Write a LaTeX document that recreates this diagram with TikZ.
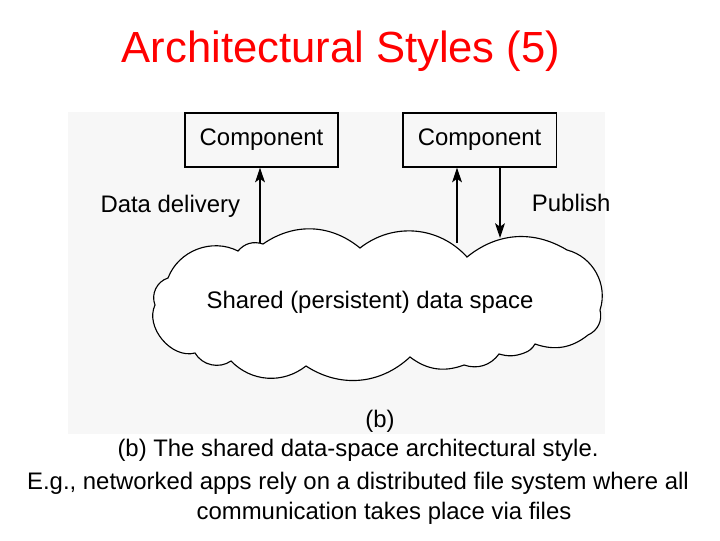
\documentclass[tikz,border=0pt]{standalone}
\usepackage{fontspec}
\setmainfont{Liberation Sans}
\usepackage{tikz}
\usetikzlibrary{shapes, arrows.meta, positioning}

\begin{document}
\begin{tikzpicture}[
    x=0.025cm, y=-0.025cm,
    box/.style={rectangle, draw, line width=0.8pt, minimum width=3.825cm, minimum height=1.35cm, font=\fontsize{17}{20}\selectfont},
    lbl/.style={font=\fontsize{17}{20}\selectfont},
    arrow/.style={-{Stealth[length=10.5pt, width=7pt, inset=2.5pt]}, line width=0.8pt},
    caption/.style={font=\fontsize{17}{20}\selectfont}
]
    \useasboundingbox (0,0) rectangle (720,540);
    % figure panel
    \fill [black!3] (68,112) rectangle (605,434);

    \node [text=red, anchor=base, font=\fontsize{31}{36}\selectfont] (title) at (341,62) {Architectural Styles (5)};

    \node [box] (comp1) at (261.5,140) {Component};
    \node [box, right of=comp1, xshift=4.45cm] (comp2) {Component};

    % the shared data space
    \draw [line width=0.8pt, fill=white] (195,353) to[bend left=65] (155,305) to[bend left=47] (168,278)
        to[bend left=48] (238,251) to[bend left=34] (263,244) to[bend left=37] (360,248)
        to[bend left=43] (467,257) to[bend left=35] (567,250) to[bend left=47] (600,310)
        to[bend left=40] (588,335) to[bend left=29] (535,344) to[bend left=20] (524,353)
        to[bend left=18] (499,354) to[bend left=36] (464,365) to[bend left=29] (410,357)
        to[bend left=38] (306,366) to[bend left=42] (231,361) to[bend left=47] (195,353) -- cycle;
    \node [lbl] (space) at (370,302) {Shared (persistent) data space};

    \coordinate (dd-out) at (260,243);
    \coordinate (sub-out) at (457,243);
    \coordinate (pub-in) at (500,238);

    \draw [arrow] (dd-out) -- (dd-out |- comp1.south);
    \draw [arrow] (sub-out) -- (sub-out |- comp2.south);
    \draw [arrow] (pub-in |- comp2.south) -- (pub-in);

    \node [lbl, anchor=east] (delivery) at (245,206) {Data delivery};
    \node [lbl, anchor=west] (publish) at (527,203) {Publish};

    \node [lbl] (fig) at (380,421) {(b)};
    \node [caption] (cap1) at (358,450) {(b) The shared data-space architectural style.};
    \node [caption] (cap2) at (358,483) {E.g., networked apps rely on a distributed file system where all};
    \node [caption] (cap3) at (384,513) {communication takes place via files};
\end{tikzpicture}
\end{document}
